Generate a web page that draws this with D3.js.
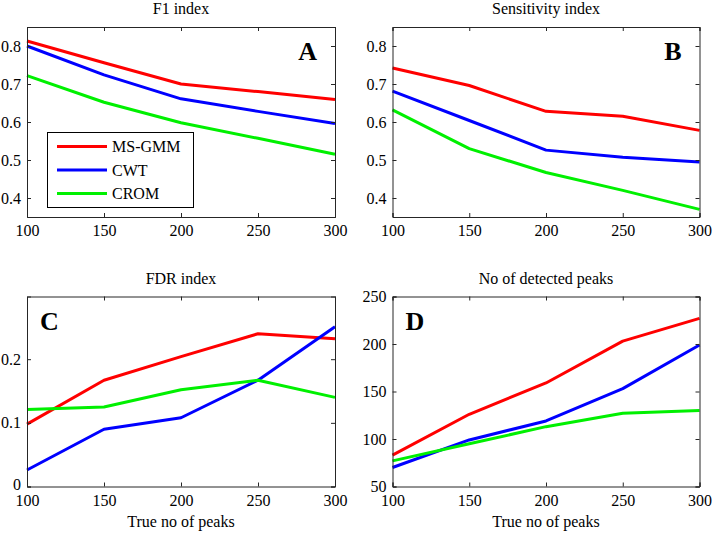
<!DOCTYPE html>
<html><head><meta charset="utf-8">
<script src="https://cdn.jsdelivr.net/npm/d3@7"></script>
<style>body{margin:0;background:#fff}svg{display:block}text{font-family:"Liberation Serif","Times New Roman",serif}</style>
</head><body><svg id="c" width="714" height="533"></svg>
<script>
const xValues = [100, 150, 200, 250, 300];
const seriesNames = ["MS-GMM", "CWT", "CROM"];
const seriesColors = ["#ff0000", "#0000ff", "#00f000"];

const f1Red = [0.813, 0.756, 0.700, 0.680, 0.659];
const f1Blue = [0.800, 0.724, 0.661, 0.628, 0.596];
const f1Green = [0.722, 0.652, 0.598, 0.557, 0.515];

const sensRed = [0.742, 0.696, 0.628, 0.615, 0.578];
const sensBlue = [0.681, 0.604, 0.526, 0.507, 0.495];
const sensGreen = [0.632, 0.530, 0.467, 0.420, 0.370];

const fdrRed = [0.098, 0.167, 0.204, 0.240, 0.232];
const fdrBlue = [0.026, 0.090, 0.108, 0.167, 0.251];
const fdrGreen = [0.121, 0.125, 0.152, 0.167, 0.140];

const peaksRed = [83, 126, 159, 203, 227];
const peaksBlue = [70, 99, 119, 153, 199];
const peaksGreen = [77, 95, 113, 127, 130];

const xTicks = [100, 150, 200, 250, 300];
const ticksAB = [0.4, 0.5, 0.6, 0.7, 0.8];
const ticksC = [0, 0.1, 0.2];
const ticksD = [50, 100, 150, 200, 250];

const panels = [
  {title: "F1 index", letter: "A", data: [f1Red, f1Blue, f1Green], domain: [0.35, 0.85], ticks: ticksAB, fmt: d3.format(".1f"),
   box: [27, 27, 335, 217], letterPos: "right", legend: true, xlabel: false},
  {title: "Sensitivity index", letter: "B", data: [sensRed, sensBlue, sensGreen], domain: [0.35, 0.85], ticks: ticksAB, fmt: d3.format(".1f"),
   box: [392.5, 27, 699.5, 217], letterPos: "right", legend: false, xlabel: false},
  {title: "FDR index", letter: "C", data: [fdrRed, fdrBlue, fdrGreen], domain: [0, 0.2985], ticks: ticksC, fmt: d => d === 0 ? "0" : d3.format(".1f")(d),
   box: [27, 296.5, 335, 486.5], letterPos: "left", legend: false, xlabel: true},
  {title: "No of detected peaks", letter: "D", data: [peaksRed, peaksBlue, peaksGreen], domain: [50, 250], ticks: ticksD, fmt: d3.format("d"),
   box: [392.5, 296.5, 699.5, 486.5], letterPos: "left", legend: false, xlabel: true}
];

const svg = d3.select("#c");
const axisColor = "#262626";

panels.forEach(p => {
  const [x0, y0, x1, y1] = p.box;
  const x = d3.scaleLinear().domain([100, 300]).range([x0, x1]);
  const y = d3.scaleLinear().domain(p.domain).range([y1, y0]);
  const g = svg.append("g");

  const line = d3.line().x((d, i) => x(xValues[i])).y(d => y(d));
  p.data.forEach((s, i) => {
    g.append("path").datum(s).attr("d", line).attr("fill", "none")
      .attr("stroke", seriesColors[i]).attr("stroke-width", 3).attr("stroke-linejoin", "round");
  });

  const tl = 4;
  const bottom = g.append("g").attr("transform", `translate(0,${y1})`)
    .call(d3.axisBottom(x).tickValues(xTicks).tickSize(-tl).tickPadding(8).tickFormat(d3.format("d")));
  const top = g.append("g").attr("transform", `translate(0,${y0})`)
    .call(d3.axisTop(x).tickValues(xTicks).tickSize(-tl).tickFormat(""));
  const left = g.append("g").attr("transform", `translate(${x0},0)`)
    .call(d3.axisLeft(y).tickValues(p.ticks).tickSize(-tl).tickPadding(6).tickFormat(p.fmt));
  const right = g.append("g").attr("transform", `translate(${x1},0)`)
    .call(d3.axisRight(y).tickValues(p.ticks).tickSize(-tl).tickFormat(""));
  [bottom, top, left, right].forEach(a => {
    a.selectAll("path.domain").attr("stroke", axisColor).attr("stroke-width", 1);
    a.selectAll(".tick line").attr("stroke", axisColor);
    a.selectAll("text").attr("fill", "#000").style("font-size", "16px")
      .style("font-family", '"Liberation Serif","Times New Roman",serif');
  });
  bottom.selectAll("text").attr("dy", "0.71em");
  // nudge the zero label up slightly so it does not collide with the first x label
  left.selectAll(".tick text").filter(d => d === 0).attr("dy", "0.2em");

  g.append("text").attr("x", (x0 + x1) / 2).attr("y", y0 - 13).attr("text-anchor", "middle")
    .style("font-size", "16px").text(p.title);

  g.append("text").attr("x", p.letterPos === "right" ? x1 - 18 : x0 + 13)
    .attr("y", y0 + 33)
    .attr("text-anchor", p.letterPos === "right" ? "end" : "start")
    .style("font-size", "26px").style("font-weight", "bold").text(p.letter);

  if (p.xlabel) {
    g.append("text").attr("x", (x0 + x1) / 2).attr("y", 527).attr("text-anchor", "middle")
      .style("font-size", "16px").text("True no of peaks");
  }

  if (p.legend) {
    const lg = g.append("g");
    lg.append("rect").attr("x", 47.5).attr("y", 132.5).attr("width", 146).attr("height", 75)
      .attr("fill", "#fff").attr("stroke", "#000").attr("stroke-width", 1);
    seriesNames.forEach((n, i) => {
      const yy = 146.5 + i * 23.5;
      lg.append("line").attr("x1", 57).attr("x2", 107).attr("y1", yy).attr("y2", yy)
        .attr("stroke", seriesColors[i]).attr("stroke-width", 3);
      lg.append("text").attr("x", 112).attr("y", yy).attr("dy", "0.35em")
        .style("font-size", "16px").text(n);
    });
  }
});
</script></body></html>
